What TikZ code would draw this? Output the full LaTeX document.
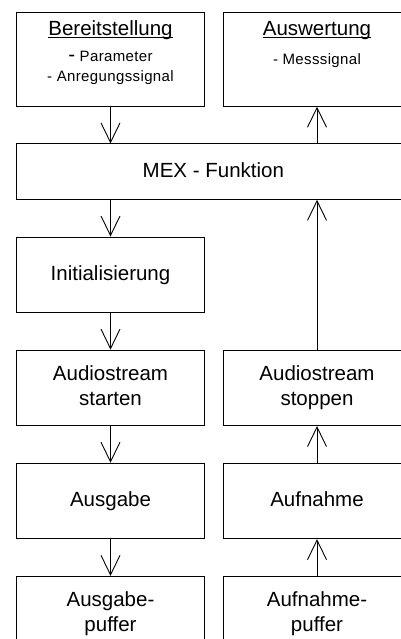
\documentclass[tikz,border=0pt]{standalone}
\usepackage{fontspec}
\setmainfont{Liberation Sans}
\newfontfamily\spacedfont[LetterSpace=2.5]{Liberation Sans}
\usepackage{tikz}
\usetikzlibrary{arrows.meta,positioning}

\begin{document}
\begin{tikzpicture}[
  x=1pt, y=1pt,
  font=\fontsize{20.5}{25}\selectfont,
  node distance=36.7pt and 18pt,
  block/.style={
    draw=black, line width=0.9pt, align=center,
    inner sep=0pt, minimum width=187.6pt, minimum height=75.5pt
  },
  oneline/.style={block, text height=15pt, text depth=3pt},
  head/.style={block, minimum height=94pt},
  title/.style={anchor=base, inner sep=0pt},
  small/.style={anchor=base, inner sep=0pt, font=\spacedfont\fontsize{15}{18}\selectfont},
  uline/.style={line width=0.9pt},
  arr/.style={-{Straight Barb[length=19.5pt, width=19pt]}, line width=0.9pt}
]
  \useasboundingbox (0,0) rectangle (401,-639);
  \clip (0,0) rectangle (401,-639);

  % obere Reihe
  \node[head] (bereit) at (110.5,-59.3) {};
  \node[head, right=of bereit] (auswert) {};

  \node[title] (bereitT) at ([yshift=-23.7pt]bereit.north) {Bereitstellung};
  \draw[uline] ([yshift=-2.3pt]bereitT.base west) -- ([yshift=-2.3pt]bereitT.base east);
  \node[small] (bereitP) at ([yshift=-26pt]bereitT.base)
    {{\fontsize{20.5}{25}\selectfont-} Parameter};
  \node[small] (bereitA) at ([yshift=-20pt]bereitP.base) {- Anregungssignal};

  \node[title] (auswertT) at ([yshift=-23.7pt]auswert.north) {Auswertung};
  \draw[uline] ([yshift=-2.3pt]auswertT.base west) -- ([yshift=-2.3pt]auswertT.base east);
  \node[small] (auswertM) at ([yshift=-28.5pt]auswertT.base) {- Messsignal};

  % MEX
  \node[oneline, minimum width=393.3pt, minimum height=55.5pt,
    below=of bereit.south west, anchor=north west] (mex) {MEX - Funktion};

  % Ausgabepfad
  \node[oneline, below=of mex.south west, anchor=north west] (init) {Initialisierung};
  \node[block, below=of init] (starten) {Audiostream\\starten\vphantom{p}};
  \node[oneline, below=of starten] (ausgabe) {Ausgabe};
  \node[block, below=of ausgabe] (ausgpuf) {Ausgabe-\\puffer};

  % Aufnahmepfad
  \node[block, right=of starten] (stoppen) {Audiostream\\stoppen};
  \node[oneline, right=of ausgabe] (aufnahme) {Aufnahme};
  \node[block, right=of ausgpuf] (aufnpuf) {Aufnahme-\\puffer};

  \draw[arr] (bereit.south) -- (bereit.south |- mex.north);
  \draw[arr] (init.north |- mex.south) -- (init.north);
  \draw[arr] (init) -- (starten);
  \draw[arr] (starten) -- (ausgabe);
  \draw[arr] (ausgabe) -- (ausgpuf);

  \draw[arr] (aufnpuf) -- (aufnahme);
  \draw[arr] (aufnahme) -- (stoppen);
  \draw[arr] (stoppen.north) -- (stoppen.north |- mex.south);
  \draw[arr] (auswert.south |- mex.north) -- (auswert.south);
\end{tikzpicture}
\end{document}
